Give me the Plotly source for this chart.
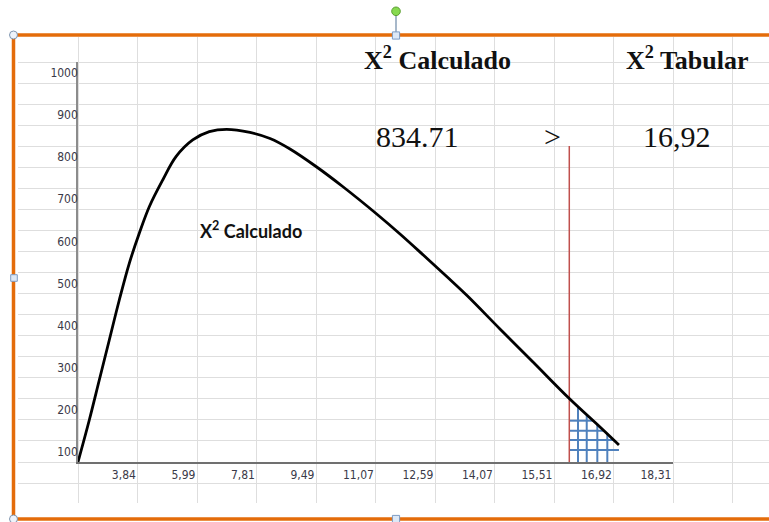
import plotly.graph_objects as go
import numpy as np

W, H = 769, 522

# ---------------- data ----------------
x_tick_labels = ["3,84", "5,99", "7,81", "9,49", "11,07", "12,59", "14,07", "15,51", "16,92", "18,31"]
x_tick_pos = [k + 0.19 for k in range(1, 11)]          # right-aligned cell text
y_tick_vals = [100, 200, 300, 400, 500, 600, 700, 800, 900, 1000]

curve_x = [0.2, 0.390, 0.558, 0.726, 0.894, 1.062, 1.230, 1.398, 1.624, 1.847, 2.128,
           2.407, 2.699, 3.091, 3.427, 3.763, 4.212, 4.659, 5.220, 5.612, 6.003,
           6.397, 6.738, 7.292, 7.847, 8.457, 8.973, 9.292]
curve_y = [76, 175.8, 270.8, 365.8, 460.8, 547.9, 619.2, 682.3, 745.8, 801.1, 840.8,
           860.5, 866.2, 858.6, 844.3, 819.4, 776.6, 729.1, 665.0, 617.5, 567.6,
           516.6, 471.4, 391.9, 313.5, 226.8, 159.1, 116.4]

crit_x = 8.457
crit_top = 826.5
hatch_x = [8.603, 8.750, 8.928, 9.096]
hatch_y = [174.1, 150.3, 128.3, 104.5]

X_MIN, X_MAX = 0.2, 10.2
Y_MIN, Y_MAX = 76, 1026

label_calc = "X<sup>2</sup> Calculado"
label_tab = "X<sup>2</sup> Tabular"
val_calc = "834.71"
val_tab = "16,92"
comparator = ">"

# ---------------- helpers ----------------
def px(x):
    return x / W

def py(y):
    return 1 - y / H

cx = np.array(curve_x)
cy = np.array(curve_y)
peak = int(np.argmax(cy))
desc_x = cx[peak:][::-1]
desc_y = cy[peak:][::-1]

hx, hy = [], []
for xv in hatch_x:
    top = float(np.interp(xv, cx, cy))
    hx += [xv, xv, None]
    hy += [Y_MIN, top, None]
for yv in hatch_y:
    right = float(np.interp(yv, desc_y, desc_x))
    hx += [crit_x, right, None]
    hy += [yv, yv, None]

fig = go.Figure()

# dummy trace so the spreadsheet-grid subplot exists
fig.add_trace(go.Scatter(x=[], y=[], xaxis="x", yaxis="y", showlegend=False, hoverinfo="skip"))

fig.add_trace(go.Scatter(
    x=hx, y=hy, mode="lines", xaxis="x2", yaxis="y2",
    line=dict(color="#4f81bd", width=2), showlegend=False, hoverinfo="skip", cliponaxis=False))

fig.add_trace(go.Scatter(
    x=[crit_x, crit_x], y=[Y_MIN, crit_top], mode="lines", xaxis="x2", yaxis="y2",
    line=dict(color="#c0504d", width=1.5), showlegend=False, hoverinfo="skip", cliponaxis=False))

fig.add_trace(go.Scatter(
    x=curve_x, y=curve_y, mode="lines", xaxis="x2", yaxis="y2",
    line=dict(color="#000000", width=2.8, shape="spline", smoothing=1.0),
    showlegend=False, hoverinfo="skip", cliponaxis=False))

grid_col = "#dedede"
col_lines = [78 + 59.5 * k for k in range(0, 12)]
row_lines = [462 - 21.05 * k for k in range(-1, 20)]

tick_font = dict(family="Liberation Sans Narrow, Arial Narrow, DejaVu Sans Condensed, Liberation Sans, sans-serif",
                 size=12, color="#3a3a48")

fig.update_layout(
    width=W, height=H,
    margin=dict(l=0, r=0, t=0, b=0),
    paper_bgcolor="white",
    plot_bgcolor="rgba(0,0,0,0)",
    showlegend=False,
    xaxis=dict(domain=[18 / W, 1], range=[18, W], tickmode="array", tickvals=col_lines,
               showticklabels=False, showgrid=True, gridcolor=grid_col, gridwidth=1,
               zeroline=False, showline=False, ticks="", fixedrange=True),
    yaxis=dict(domain=[py(503), py(37)], range=[503, 37], tickmode="array", tickvals=row_lines,
               showticklabels=False, showgrid=True, gridcolor=grid_col, gridwidth=1,
               zeroline=False, showline=False, ticks="", fixedrange=True),
    xaxis2=dict(domain=[px(78), px(673)], range=[X_MIN, X_MAX], anchor="y2",
                tickmode="array", tickvals=x_tick_pos, ticktext=x_tick_labels,
                ticklabelposition="outside left", ticks="", ticklen=0,
                showgrid=False, zeroline=False, showline=True, linecolor="#707070", linewidth=2,
                tickfont=tick_font, ticklabelstandoff=1),
    yaxis2=dict(domain=[py(462), py(62)], range=[Y_MIN, Y_MAX], anchor="x2",
                tickmode="array", tickvals=y_tick_vals, ticks="", ticklen=0,
                showgrid=False, zeroline=False, showline=True, linecolor="#8c8c8c", linewidth=1.5,
                tickfont=tick_font, ticklabelstandoff=-4),
)

serif = "Liberation Serif, Times New Roman, serif"
annotations = [
    dict(text="<b>" + label_calc + "</b>", x=px(437), y=py(59), size=26, family=serif),
    dict(text="<b>" + label_tab + "</b>", x=px(687), y=py(59), size=26, family=serif),
    dict(text=val_calc, x=px(417), y=py(136), size=30, family=serif),
    dict(text=comparator, x=px(552), y=py(136), size=30, family=serif),
    dict(text=val_tab, x=px(677), y=py(136), size=30, family=serif),
    dict(text="<b>" + label_calc + "</b>", x=px(251), y=py(230), size=18,
         family="Lato, Open Sans, sans-serif"),
]
for a in annotations:
    fig.add_annotation(text=a["text"], x=a["x"], y=a["y"], xref="paper", yref="paper",
                       showarrow=False, xanchor="center", yanchor="middle",
                       font=dict(family=a["family"], size=a["size"], color="#111111"))

# selection frame (orange) and handles
orange = "#e46c0a"
shapes = [
    dict(type="line", x0=px(13.5), x1=1, y0=py(35), y1=py(35), line=dict(color=orange, width=3.5)),
    dict(type="line", x0=px(13.5), x1=px(13.5), y0=py(35), y1=py(519), line=dict(color=orange, width=3.5)),
    dict(type="line", x0=px(13.5), x1=1, y0=py(519), y1=py(519), line=dict(color=orange, width=3.5)),
    dict(type="line", x0=px(396), x1=px(396), y0=py(15), y1=py(32), line=dict(color="#8aa0b8", width=1.5)),
]
def circle(cxp, cyp, r, fill, edge):
    return dict(type="circle", x0=px(cxp - r), x1=px(cxp + r), y0=py(cyp - r), y1=py(cyp + r),
                fillcolor=fill, line=dict(color=edge, width=1))
def square(cxp, cyp, r):
    return dict(type="rect", x0=px(cxp - r), x1=px(cxp + r), y0=py(cyp - r), y1=py(cyp + r),
                fillcolor="#dde8f6", line=dict(color="#7d9cc4", width=1))
shapes += [
    circle(13.5, 35, 4, "#eef3fa", "#8096b0"),
    circle(13.5, 519, 4, "#eef3fa", "#8096b0"),
    circle(396, 11.3, 4.3, "#86d94f", "#5c9e33"),
    square(396, 35.5, 3.6),
    square(14, 278, 3.3),
    square(396, 519, 3.6),
]
for s in shapes:
    s["xref"] = "paper"
    s["yref"] = "paper"
    s["layer"] = "above"
    fig.add_shape(**s)

fig.write_html("out.html", config={"displayModeBar": False},
               post_script="document.body.style.margin='0';document.body.style.overflow='hidden';")
